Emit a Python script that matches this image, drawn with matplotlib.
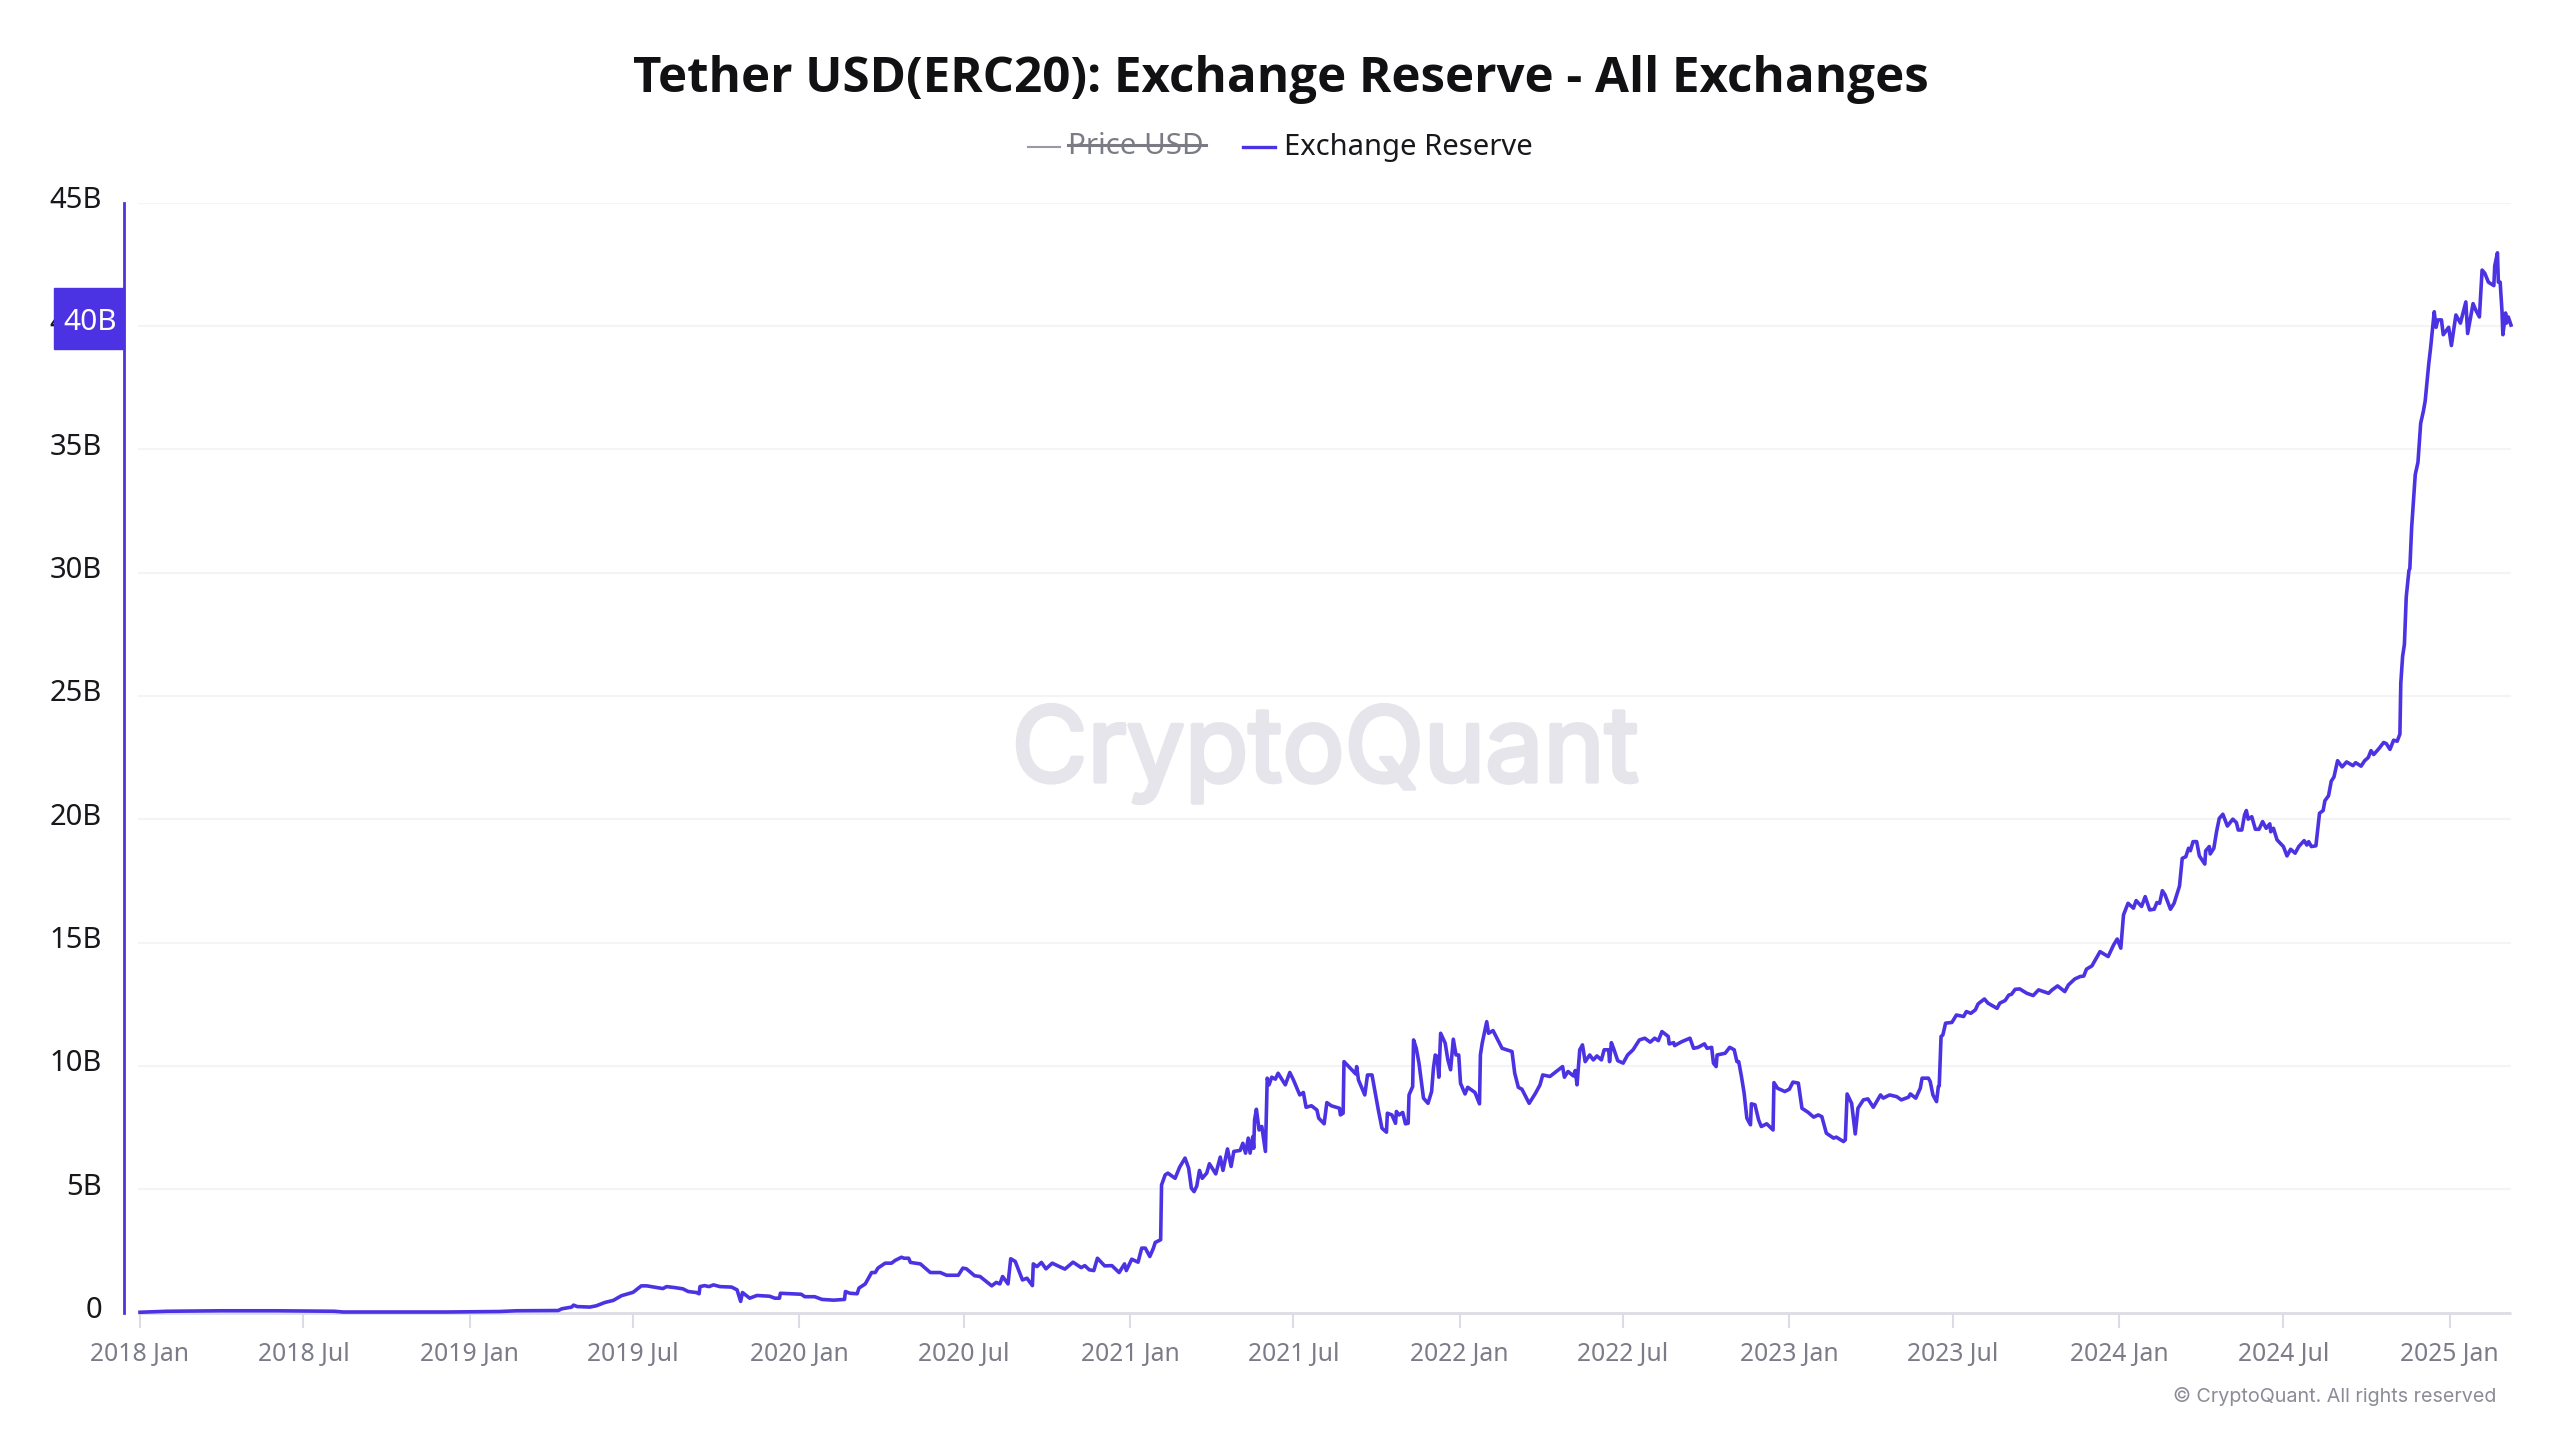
#!/usr/bin/env python
# -*- coding: utf-8 -*-

import numpy as np
import pandas as pd
import matplotlib
matplotlib.use('Agg')
import matplotlib.pyplot as plt
import matplotlib.patheffects as pe
from matplotlib.lines import Line2D
from matplotlib.patches import Rectangle
from matplotlib.transforms import ScaledTranslation

# days counted from start_date, values in billions
start_date = '2018-01-01'
end_day = 2625

days_2018 = [0, 15, 30, 60, 90, 120, 150, 180, 200, 215, 225, 260, 300, 340, 365, 398, 417, 463, 467, 478, 480, 484, 498, 505, 515, 524, 533, 546, 555, 561, 572, 579, 583, 592, 601, 607, 616, 619, 620, 625, 630, 635, 642, 655, 661, 665, 667, 675, 683, 697, 703, 708, 709, 720, 732, 736, 747, 755, 768, 780, 781, 786, 794, 796, 803, 810, 814, 817, 825, 832, 836, 843, 846, 851, 853, 864, 875, 886, 893, 906, 911, 915, 924, 930, 943, 948]
vals_2018 = [.01, .03, .05, .06, .07, .07, .07, .06, .05, .05, .02, .02, .02, .02, .03, .04, .07, .08, .15, .22, .30, .24, .22, .27, .41, .49, .68, .82, 1.08, 1.08, 1.01, .97, 1.05, 1.01, .96, .85, .81, .76, 1.05, 1.09, 1.05, 1.12, 1.05, 1.03, .92, .45, .81, .58, .69, .66, .58, .58, .78, .76, .74, .64, .64, .53, .50, .53, .85, .78, .76, .99, 1.16, 1.62, 1.62, 1.80, 2.00, 2.00, 2.11, 2.24, 2.20, 2.20, 2.03, 1.97, 1.62, 1.62, 1.51, 1.51, 1.80, 1.77, 1.49, 1.46, 1.08, 1.22]

days_2020 = [952, 955, 961, 964, 969, 977, 982, 988, 989, 993, 998, 1003, 1010, 1018, 1024, 1033, 1042, 1046, 1051, 1056, 1060, 1068, 1076, 1084, 1090, 1092, 1098, 1105, 1109, 1113, 1118, 1122, 1124, 1130, 1131, 1135, 1138, 1146, 1151, 1157, 1161, 1164, 1167, 1170, 1173, 1176, 1181, 1184, 1191, 1196, 1199, 1204, 1208, 1211, 1218, 1221, 1224, 1227, 1229, 1232, 1233, 1234, 1236, 1239, 1242, 1246]
vals_2020 = [1.16, 1.46, 1.16, 2.18, 2.07, 1.32, 1.39, 1.09, 1.97, 1.86, 2.03, 1.77, 2.00, 1.86, 1.76, 2.04, 1.82, 1.90, 1.73, 1.70, 2.20, 1.89, 1.90, 1.62, 1.97, 1.70, 2.16, 2.04, 2.61, 2.61, 2.27, 2.61, 2.84, 2.95, 5.17, 5.58, 5.65, 5.44, 5.89, 6.26, 5.85, 5.04, 4.90, 5.13, 5.76, 5.44, 5.65, 6.03, 5.62, 6.30, 5.76, 6.63, 5.92, 6.53, 6.57, 6.86, 6.46, 7.07, 6.46, 7.13, 6.66, 7.81, 8.24, 7.40, 7.54, 6.53]

days_2021 = [1248, 1250, 1253, 1257, 1260, 1268, 1273, 1277, 1284, 1288, 1291, 1297, 1303, 1305, 1311, 1314, 1319, 1328, 1329, 1332, 1333, 1340, 1346, 1347, 1349, 1356, 1359, 1364, 1367, 1371, 1375, 1380, 1381, 1386, 1390, 1391, 1394, 1398, 1401, 1404, 1405, 1409, 1410, 1413, 1416, 1421, 1426, 1430, 1432, 1434, 1436, 1438, 1440, 1445, 1448, 1451, 1454, 1457, 1460, 1462, 1467, 1470, 1478, 1483, 1484, 1486, 1491, 1493, 1498, 1508, 1513, 1519, 1522, 1526, 1530, 1538, 1545, 1550]
vals_2021 = [9.50, 9.23, 9.54, 9.46, 9.70, 9.23, 9.73, 9.43, 8.82, 8.92, 8.32, 8.38, 8.21, 7.88, 7.65, 8.51, 8.38, 8.28, 8.01, 8.08, 10.17, 9.90, 9.67, 9.97, 9.43, 8.82, 9.63, 9.63, 9.02, 8.21, 7.47, 7.31, 8.08, 8.01, 7.67, 8.15, 8.01, 8.11, 7.65, 7.67, 8.82, 9.16, 11.05, 10.71, 10.11, 8.69, 8.48, 8.96, 9.90, 10.44, 10.38, 9.54, 11.32, 10.92, 10.24, 9.84, 11.08, 10.44, 10.44, 9.29, 8.86, 9.13, 8.92, 8.46, 10.44, 10.92, 11.79, 11.32, 11.43, 10.71, 10.65, 10.58, 9.70, 9.13, 9.05, 8.48, 8.89, 9.23]

days_2022 = [1553, 1561, 1568, 1575, 1577, 1581, 1587, 1589, 1591, 1594, 1597, 1600, 1605, 1609, 1613, 1618, 1621, 1626, 1627, 1629, 1632, 1636, 1642, 1647, 1653, 1660, 1666, 1672, 1677, 1681, 1685, 1692, 1693, 1698, 1699, 1707, 1716, 1720, 1725, 1732, 1735, 1740, 1742, 1745, 1746, 1755, 1760, 1765, 1768, 1770, 1773, 1776, 1779, 1783, 1784, 1788, 1792, 1795, 1801, 1806, 1808, 1809, 1813, 1821, 1826, 1830, 1836, 1840, 1847, 1853, 1858, 1862, 1867, 1875, 1878, 1886, 1888, 1890, 1895, 1899, 1902, 1908, 1913, 1919, 1927, 1930, 1937, 1945, 1950, 1958, 1960, 1966, 1971, 1973, 1980, 1982, 1985, 1989, 1991, 1992, 1994, 1996, 1999, 2006, 2011]
vals_2022 = [9.63, 9.57, 9.77, 9.97, 9.54, 9.77, 9.59, 9.81, 9.23, 10.65, 10.85, 10.17, 10.44, 10.24, 10.40, 10.24, 10.65, 10.65, 10.17, 10.94, 10.65, 10.21, 10.11, 10.44, 10.65, 11.05, 11.12, 10.96, 11.12, 11.02, 11.39, 11.19, 10.89, 10.94, 10.82, 10.98, 11.12, 10.71, 10.75, 10.89, 10.71, 10.75, 10.11, 9.97, 10.44, 10.51, 10.75, 10.65, 10.17, 10.17, 9.57, 8.89, 7.88, 7.61, 8.46, 8.42, 7.81, 7.54, 7.65, 7.47, 7.40, 9.32, 9.09, 8.96, 9.05, 9.34, 9.30, 8.28, 8.11, 7.92, 8.01, 7.94, 7.27, 7.07, 7.11, 6.93, 7.00, 8.86, 8.48, 7.24, 8.28, 8.62, 8.66, 8.32, 8.82, 8.69, 8.82, 8.75, 8.62, 8.73, 8.86, 8.69, 9.09, 9.50, 9.50, 9.36, 8.82, 8.55, 9.16, 9.19, 11.19, 11.25, 11.73, 11.76, 12.06]

days_2023 = [2019, 2022, 2027, 2032, 2035, 2042, 2046, 2056, 2059, 2065, 2069, 2072, 2076, 2081, 2089, 2096, 2102, 2113, 2117, 2123, 2131, 2135, 2142, 2148, 2152, 2155, 2161, 2170, 2174, 2179, 2185, 2189, 2193, 2196, 2201, 2207, 2210, 2216, 2220, 2225, 2230, 2233, 2236, 2239, 2242, 2248, 2252, 2258, 2261, 2265, 2268, 2270, 2273, 2277, 2280, 2286, 2287, 2291, 2292, 2296, 2299, 2302, 2306, 2311, 2317, 2321, 2323, 2327, 2330, 2332, 2334, 2338, 2342, 2346, 2350, 2354, 2358, 2359, 2362, 2366, 2373, 2377, 2381, 2386, 2390, 2396, 2399, 2401, 2404, 2409]
vals_2023 = [12.0, 12.2, 12.13, 12.27, 12.51, 12.71, 12.54, 12.33, 12.54, 12.65, 12.87, 12.90, 13.10, 13.12, 12.94, 12.85, 13.08, 12.94, 13.08, 13.24, 13.01, 13.28, 13.52, 13.62, 13.64, 13.92, 14.05, 14.63, 14.54, 14.43, 14.90, 15.14, 14.77, 16.12, 16.59, 16.39, 16.70, 16.46, 16.86, 16.32, 16.35, 16.62, 16.59, 17.10, 16.93, 16.35, 16.59, 17.29, 18.41, 18.48, 18.82, 18.72, 19.09, 19.09, 18.51, 18.18, 18.72, 18.89, 18.59, 18.82, 19.49, 20.03, 20.20, 19.72, 20.0, 19.86, 19.56, 19.56, 20.17, 20.35, 20.0, 20.10, 19.59, 19.59, 19.90, 19.63, 19.81, 19.49, 19.63, 19.16, 18.89, 18.51, 18.78, 18.62, 18.89, 19.13, 18.95, 19.09, 18.89, 18.92]

days_2024 = [2413, 2417, 2419, 2423, 2426, 2429, 2433, 2438, 2443, 2450, 2453, 2459, 2463, 2467, 2470, 2473, 2479, 2484, 2487, 2491, 2495, 2499, 2502, 2503, 2505, 2507, 2509, 2512, 2513, 2515, 2517, 2519, 2522, 2525, 2528, 2530, 2534, 2536, 2540, 2542, 2544, 2548, 2550, 2556, 2559, 2564, 2569, 2575, 2577, 2583, 2586, 2590, 2593, 2596, 2600, 2606, 2607, 2610, 2611, 2613, 2615, 2616, 2619, 2620, 2622, 2625]
vals_2024 = [20.24, 20.35, 20.75, 20.95, 21.54, 21.71, 22.37, 22.12, 22.32, 22.17, 22.29, 22.15, 22.37, 22.50, 22.78, 22.62, 22.87, 23.11, 23.06, 22.83, 23.20, 23.16, 23.45, 25.52, 26.60, 27.09, 29.0, 30.08, 30.16, 31.82, 32.90, 33.97, 34.47, 36.05, 36.54, 36.96, 38.48, 39.11, 40.57, 39.94, 40.24, 40.24, 39.64, 39.94, 39.20, 40.44, 40.11, 40.97, 39.69, 40.90, 40.64, 40.36, 42.26, 42.13, 41.77, 41.63, 42.43, 42.96, 41.77, 41.77, 40.61, 39.64, 40.52, 40.11, 40.36, 40.03]

y_ticks = [0, 5, 10, 15, 20, 25, 30, 35, 40, 45]
y_labels = ['0', '5B', '10B', '15B', '20B', '25B', '30B', '35B', '40B', '45B']
x_tick_dates = ['2018-01-01', '2018-07-01', '2019-01-01', '2019-07-01', '2020-01-01', '2020-07-01', '2021-01-01', '2021-07-01', '2022-01-01', '2022-07-01', '2023-01-01', '2023-07-01', '2024-01-01', '2024-07-01', '2025-01-01']
x_tick_labels = ['2018 Jan', '2018 Jul', '2019 Jan', '2019 Jul', '2020 Jan', '2020 Jul', '2021 Jan', '2021 Jul', '2022 Jan', '2022 Jul', '2023 Jan', '2023 Jul', '2024 Jan', '2024 Jul', '2025 Jan']
title = 'Tether USD(ERC20): Exchange Reserve - All Exchanges'

BLUE = '#4b33e3'
W, H = 2560, 1440


def px(x, y):
    # figure fraction from reference pixels
    return x / W, 1 - y / H


plt.rcParams['font.family'] = ['Noto Sans', 'DejaVu Sans']

days = np.concatenate([days_2018, days_2020, days_2021, days_2022, days_2023, days_2024])
vals = np.concatenate([vals_2018, vals_2020, vals_2021, vals_2022, vals_2023, vals_2024])
dates = pd.Timestamp(start_date) + pd.to_timedelta(days, unit='D')

fig = plt.figure(figsize=(W / 100, H / 100), dpi=100, facecolor='white')
ax = fig.add_axes([124 / W, (H - 1312.5) / H, (2511 - 124) / W, 1110 / H])

x_left = pd.Timestamp(start_date) - pd.Timedelta(days=17.7)
x_right = pd.Timestamp(start_date) + pd.Timedelta(days=end_day)
x_grid = pd.Timestamp(start_date) - pd.Timedelta(days=2)

ax.hlines(y_ticks[1:], x_grid, x_right, color='#f4f4f7', lw=1.5, zorder=1)
ax.hlines(0, x_grid, x_right, color='#dcdce6', lw=2, zorder=1, clip_on=False)
ax.plot(dates, vals, color=BLUE, lw=2.6, zorder=3, solid_joinstyle='round', clip_on=False)

ax.set_xlim(x_left, x_right)
ax.set_ylim(0, 45)

for s in ['top', 'right', 'bottom']:
    ax.spines[s].set_visible(False)
ax.spines['left'].set_color(BLUE)
ax.spines['left'].set_linewidth(2)

ax.set_yticks(y_ticks)
ax.set_yticklabels(y_labels, fontsize=21, color='#17171c')
ax.tick_params(axis='y', length=0, pad=16)
shift = ScaledTranslation(0, 5.5 / 100, fig.dpi_scale_trans)
for lbl in ax.get_yticklabels():
    lbl.set_transform(lbl.get_transform() + shift)

ax.set_xticks(pd.to_datetime(x_tick_dates))
ax.set_xticklabels(x_tick_labels, fontsize=17.8, color='#7b7c88')
ax.tick_params(axis='x', length=11, width=1.5, color='#dcdce6', pad=10)

# title, Open Sans has a real bold here
x, y = px(1280.5, 79)
fig.text(x, y, title, fontsize=35.5, fontfamily='Open Sans', fontweight='bold', color='#111114',
         ha='center', va='center')

# legend, the price series is switched off in the original
fig.add_artist(Line2D([1028 / W, 1060 / W], [px(0, 147)[1]] * 2, color='#9a9aa3', lw=1.5))
x, y = px(1068, 147)
fig.text(x, y, 'Price USD', fontsize=21.3, color='#7b7b86', ha='left', va='center')
fig.add_artist(Line2D([1068 / W, 1206 / W], [px(0, 145)[1]] * 2, color='#7b7b86', lw=2.2))
fig.add_artist(Line2D([1243 / W, 1275 / W], [px(0, 147)[1]] * 2, color=BLUE, lw=2.4))
x, y = px(1284, 147)
fig.text(x, y, 'Exchange Reserve', fontsize=21, color='#17171c', ha='left', va='center')

# badge over the y axis label
x, y = px(54, 349)
fig.add_artist(Rectangle((x, y), 70 / W, 61 / H, transform=fig.transFigure, color=BLUE, zorder=5))
x, y = px(90.5, 323)
fig.text(x, y, '40B', fontsize=21.5, color='white', ha='center', va='center', zorder=6)

# watermark
x, y = px(1325, 754)
fig.text(x, y, 'CryptoQuant', fontsize=74.7, fontfamily='Inter', color='#e5e5eb', ha='center', va='center',
         zorder=0, path_effects=[pe.withStroke(linewidth=3, foreground='#e5e5eb')])

# copyright
x, y = px(2496, 1397)
fig.text(x, y, '© CryptoQuant. All rights reserved', fontsize=14.2, fontfamily='Inter', color='#8b8c97',
         ha='right', va='center')

fig.savefig('out.png', dpi=100, facecolor='white')
